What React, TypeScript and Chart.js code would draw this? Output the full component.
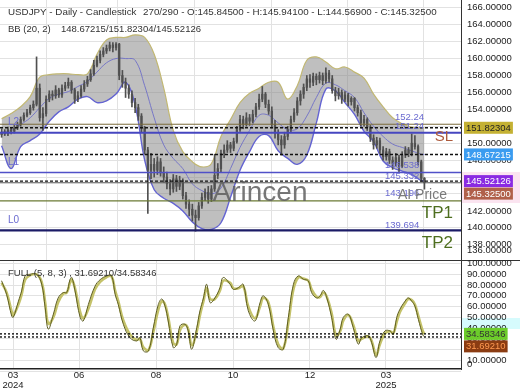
import React, { useEffect, useRef } from 'react';
import { Chart, registerables } from 'chart.js';
Chart.register(...registerables);

const FONT = '"Liberation Sans", Arial, sans-serif';

// ---- candle data (one bar per slot) ----
const opens = [
  151.00, 151.30, 151.10, 151.60, 151.40, 151.80, 152.20, 152.80, 153.30, 153.60,
  154.20, 154.60, 156.50, 153.00, 153.50, 155.20, 155.80, 155.60, 156.30, 155.70,
  156.50, 156.80, 157.20, 156.30, 155.20, 155.60, 156.40, 157.00, 157.50, 158.20,
  159.20, 159.80, 160.50, 160.90, 161.20, 161.60, 161.30, 161.70, 158.00, 157.20,
  156.50, 155.80, 154.80, 154.20, 153.20, 151.80, 149.20, 146.80, 147.50, 146.80,
  147.80, 146.50, 146.00, 145.20, 144.60, 145.80, 144.90, 145.60, 143.80, 142.80,
  142.20, 141.50, 141.20, 142.60, 143.60, 144.20, 143.40, 144.60, 146.20, 147.00,
  148.80, 149.20, 149.80, 149.40, 150.20, 151.60, 152.80, 152.20, 153.00, 152.60,
  153.40, 154.30, 155.20, 155.80, 154.60, 153.80, 152.20, 151.20, 150.40, 149.80,
  150.80, 151.60, 152.80, 153.60, 155.00, 155.80, 156.60, 157.60, 157.20, 157.90,
  157.50, 158.00, 157.40, 158.30, 157.60, 156.20, 155.60, 156.00, 155.20, 155.70,
  154.90, 155.30, 154.20, 153.60, 152.40, 152.80, 151.90, 150.60, 149.80, 150.30,
  149.20, 148.40, 149.00, 148.00, 147.60, 148.30, 147.30, 148.60, 149.20, 148.80,
  150.00, 149.60, 147.80, 145.845,
];
const highs = [
  151.70, 151.60, 151.90, 151.80, 152.10, 152.50, 153.10, 153.60, 154.00, 154.50,
  155.00, 160.20, 157.00, 154.20, 155.60, 156.20, 156.20, 156.80, 156.50, 156.90,
  157.20, 157.70, 157.40, 156.50, 156.10, 156.80, 157.40, 157.90, 158.70, 159.80,
  160.30, 160.90, 161.30, 161.60, 161.95, 161.90, 161.90, 161.80, 158.60, 157.70,
  156.90, 156.20, 155.30, 154.60, 153.50, 152.00, 149.50, 148.80, 148.20, 148.40,
  148.20, 147.20, 146.60, 145.70, 146.30, 146.20, 146.10, 145.80, 144.20, 143.30,
  142.80, 142.10, 143.00, 144.10, 144.60, 144.90, 145.00, 148.70, 147.60, 149.20,
  149.80, 150.30, 150.10, 150.60, 152.00, 153.30, 153.20, 153.60, 153.40, 153.90,
  154.70, 155.80, 156.70, 156.00, 155.10, 154.30, 152.70, 151.60, 150.90, 151.30,
  152.00, 153.20, 154.10, 155.40, 156.20, 157.00, 158.00, 158.10, 158.30, 158.20,
  158.40, 158.30, 158.90, 158.60, 158.00, 156.60, 156.50, 156.30, 156.10, 155.90,
  155.50, 155.40, 154.50, 153.90, 153.30, 153.00, 152.10, 151.00, 150.70, 150.60,
  149.60, 149.40, 149.30, 148.40, 148.80, 148.60, 149.00, 149.60, 149.50, 151.10,
  150.90, 149.80, 148.00, 145.941,
];
const lows = [
  150.70, 150.90, 150.90, 151.10, 151.20, 151.60, 152.00, 152.60, 153.10, 153.40,
  153.90, 154.40, 152.60, 151.50, 153.20, 154.90, 155.10, 155.30, 155.40, 155.40,
  156.20, 156.50, 155.90, 154.70, 154.90, 155.40, 156.10, 156.70, 157.30, 158.00,
  159.00, 159.50, 160.20, 160.60, 160.90, 160.80, 161.00, 157.50, 156.60, 155.40,
  155.30, 154.30, 153.60, 152.70, 151.30, 148.70, 141.70, 145.80, 146.00, 146.30,
  146.10, 145.40, 144.60, 143.90, 144.20, 144.30, 144.50, 143.40, 142.30, 141.40,
  140.80, 139.60, 140.90, 142.30, 143.20, 142.90, 143.10, 144.30, 145.80, 146.60,
  148.30, 148.90, 148.90, 149.10, 150.00, 151.40, 151.70, 152.00, 152.10, 152.40,
  153.10, 154.00, 154.90, 154.20, 153.40, 151.80, 150.60, 149.80, 148.60, 149.40,
  150.40, 151.30, 152.50, 153.30, 154.50, 155.30, 156.20, 156.60, 156.80, 156.90,
  157.10, 156.90, 157.10, 157.20, 155.90, 155.00, 155.20, 154.70, 154.90, 154.40,
  154.50, 153.80, 153.20, 152.00, 152.00, 151.50, 150.20, 149.30, 149.40, 148.80,
  148.00, 148.00, 147.60, 146.90, 147.30, 146.60, 147.10, 148.30, 148.40, 148.50,
  149.30, 147.40, 145.50, 144.569,
];
const closes = [
  151.30, 151.10, 151.60, 151.40, 151.80, 152.20, 152.80, 153.30, 153.60, 154.20,
  154.60, 156.50, 153.00, 153.50, 155.20, 155.80, 155.60, 156.30, 155.70, 156.50,
  156.80, 157.20, 156.30, 155.20, 155.60, 156.40, 157.00, 157.50, 158.20, 159.20,
  159.80, 160.50, 160.90, 161.20, 161.60, 161.30, 161.70, 158.00, 157.20, 156.50,
  155.80, 154.80, 154.20, 153.20, 151.80, 149.20, 146.80, 147.50, 146.80, 147.80,
  146.50, 146.00, 145.20, 144.60, 145.80, 144.90, 145.60, 143.80, 142.80, 142.20,
  141.50, 141.20, 142.60, 143.60, 144.20, 143.40, 144.60, 146.20, 147.00, 148.80,
  149.20, 149.80, 149.40, 150.20, 151.60, 152.80, 152.20, 153.00, 152.60, 153.40,
  154.30, 155.20, 155.80, 154.60, 153.80, 152.20, 151.20, 150.40, 149.80, 150.80,
  151.60, 152.80, 153.60, 155.00, 155.80, 156.60, 157.60, 157.20, 157.90, 157.50,
  158.00, 157.40, 158.30, 157.60, 156.20, 155.60, 156.00, 155.20, 155.70, 154.90,
  155.30, 154.20, 153.60, 152.40, 152.80, 151.90, 150.60, 149.80, 150.30, 149.20,
  148.40, 149.00, 148.00, 147.60, 148.30, 147.30, 148.60, 149.20, 148.80, 150.00,
  149.60, 147.80, 145.85, 145.325,
];

// ---- Bollinger bands (20, 2), read at every third slot ----
const bbX = [0, 3, 6, 9, 12, 15, 18, 21, 24, 27, 30, 33, 36, 39, 42, 45, 48, 51, 54, 57, 60, 63, 66, 69, 72, 75, 78, 81, 84, 87, 90, 93, 96, 99, 102, 105, 108, 111, 114, 117, 120, 123, 126, 129, 132, 133];
const bbUpper = [152.9, 153.5, 154.3, 155.5, 157.8, 158.1, 158.2, 158.2, 158.1, 158.2, 160.5, 162.2, 162.5, 162.5, 162.8, 162.5, 160.5, 156.5, 151.5, 149.0, 147.8, 147.2, 147.6, 150.8, 152.8, 154.8, 155.9, 156.5, 157.2, 157.2, 155.2, 156.8, 159.8, 160.2, 159.6, 158.8, 159.0, 158.4, 157.7, 155.8, 154.3, 153.0, 152.3, 151.9, 151.8, 151.82304];
const bbMiddle = [151.3, 151.5, 152.2, 153.0, 154.2, 155.3, 155.8, 156.1, 156.7, 157.3, 158.4, 159.5, 160.0, 160.0, 159.8, 156.8, 153.0, 149.8, 148.2, 147.0, 145.2, 144.4, 144.0, 144.7, 147.0, 149.5, 151.5, 153.3, 153.3, 152.4, 151.6, 151.7, 153.2, 155.4, 157.1, 156.9, 156.2, 155.4, 153.6, 152.0, 150.8, 149.9, 149.5, 149.1, 148.7, 148.67215];
const bbLower = [149.7, 147.0, 149.6, 150.3, 151.1, 152.6, 153.7, 154.3, 155.2, 155.5, 154.8, 155.0, 155.8, 157.2, 154.5, 148.0, 144.5, 143.5, 142.9, 142.0, 140.7, 139.9, 139.8, 140.6, 143.6, 146.8, 149.0, 150.8, 150.9, 149.1, 148.2, 147.5, 148.6, 152.4, 156.4, 156.2, 154.8, 153.4, 151.4, 150.2, 147.9, 147.1, 146.7, 146.3, 145.6, 145.52126];

// ---- Stochastic FULL (5, 8, 3) ----
const stX = [0, 1.6, 3.2, 3.7, 5.3, 6.3, 7.4, 8.9, 11.0, 12.6, 13.7, 14.7, 16.3, 17.8, 19.4, 20.5, 21.5, 22.1, 23.1, 24.7, 25.7, 27.3, 29.4, 31.0, 33.1, 34.6, 35.7, 36.7, 38.3, 40.4, 42.5, 43.5, 44.6, 46.2, 47.7, 49.3, 50.4, 51.4, 52.4, 54.0, 55.1, 56.1, 57.7, 58.7, 59.8, 61.4, 62.4, 63.5, 64.5, 65.6, 67.1, 68.7, 69.7, 71.9, 72.9, 74.5, 76.0, 77.6, 79.7, 81.3, 82.3, 83.9, 85.5, 87.0, 88.6, 90.2, 91.8, 93.3, 94.9, 96.5, 97.5, 99.1, 100.2, 101.2, 102.3, 103.8, 105.2, 106.5, 107.5, 109.1, 110.6, 112.2, 113.3, 115.4, 116.4, 117.8, 119.0, 120.6, 122.2, 123.2, 124.3, 125.3, 126.9, 127.9, 129.0, 130.0, 131.1, 132.5, 133];
const stK = [84, 71, 51, 50, 65, 74.5, 88.5, 90, 90, 81, 59, 39, 53, 68, 73, 73, 85, 87, 74.5, 50, 46.6, 62, 79, 85, 88.5, 88.5, 71.5, 62, 43.5, 31, 28, 31, 18.7, 18.7, 40, 62, 67, 60.5, 46.6, 21.8, 25, 42, 43.5, 37.3, 20.3, 40.4, 56, 68, 80.7, 63.6, 68, 77.6, 87, 80.7, 76, 77.6, 80.7, 56, 46.6, 63.6, 70, 62, 37.3, 21.8, 20.3, 50, 80.7, 88.5, 85.4, 83.8, 73, 68, 70, 75, 68, 50, 29.6, 38.9, 50, 52.8, 40.4, 25, 31, 32.7, 26.4, 12.5, 28, 37.3, 37.3, 34.2, 50, 57.5, 65, 68, 65, 60.5, 48, 33.5, 31.6921];
const stD = [82, 73, 55, 52, 62, 71, 85, 89, 90, 83, 64, 44, 50, 64, 72, 73, 82, 85, 77, 55, 49, 58, 76, 83, 87.5, 88, 75, 65, 47, 34, 29, 30, 22, 19.5, 36, 57, 65, 62, 50, 26, 25, 38, 43, 39, 24, 37, 52, 65, 77, 67, 67, 75, 84, 82, 77, 77, 79, 60, 49, 60, 68, 64, 41, 25, 21, 45, 76, 87, 86, 84, 76, 69, 69, 73, 69, 54, 33, 37, 47, 52, 43, 28, 30, 32, 28, 15, 25, 35, 37, 35, 46, 55, 63, 67, 66, 62, 51, 37, 34.58346];

// ---- axes ----
const priceTicks = [166, 164, 162, 160, 158, 156, 154, 152, 150, 148, 146, 144, 142, 140, 138, 136];
const stochTicks = [100, 90, 80, 70, 60, 50, 40, 30, 20, 10, 0];
const xTickPos = [3.59, 24.35, 48.57, 72.79, 97.0, 120.9];
const xTickLabels: (string | string[])[] = [['03', '2024'], '06', '08', '10', '12', ['03', '2025']];

// ---- levels & texts ----
const levelValues = [152.24, 151.82304, 151.24, 148.67215, 146.538, 145.52126, 145.325, 143.196, 139.694];
const levelTexts = ['152.24', '', '151.24', '', '146.538', '', '145.332', '143.196', '139.694'];
const sideTexts = ['L2', 'L1', 'L0'];
const sideLevels = [151.24, 146.538, 139.694];
const targetTexts = ['SL', 'TP1', 'TP2'];
const targetLevels = [151.24, 143.196, 139.694];
const priceBoxValues = [151.82304, 148.67215, 145.52126, 145.325];
const stochBoxValues = [34.58346, 31.6921];
const headerLine1a = 'USDJPY - Daily - Candlestick';
const headerLine1b = '270/290 - O:145.84500 - H:145.94100 - L:144.56900 - C:145.32500';
const headerLine2a = 'BB (20, 2)';
const headerLine2b = '148.67215/151.82304/145.52126';
const stochHeader = 'FULL (5, 8, 3) , 31.69210/34.58346';

function font(px: number) {
  return `${px}px ${FONT}`;
}

export default function App() {
  const refA = useRef<HTMLCanvasElement>(null);
  const refB = useRef<HTMLCanvasElement>(null);

  useEffect(() => {
    document.body.style.margin = '0';
    const levelStyle = [
      { c: '#7a6a3a', w: 1, d: [] as number[] },
      { c: '#111111', w: 1.4, d: [3, 2] },
      { c: '#4646c0', w: 2, d: [] as number[] },
      { c: '#111111', w: 1.4, d: [3, 2] },
      { c: '#5050c8', w: 1.5, d: [] as number[] },
      { c: '#111111', w: 1.4, d: [3, 2] },
      { c: '#555555', w: 1, d: [] as number[] },
      { c: '#6b7a35', w: 1.2, d: [] as number[] },
      { c: '#1b1b66', w: 2.2, d: [] as number[] },
    ];
    const levelTextDy = [-7, 0, -6, 0, -7.5, 0, -6, -7, -5.5];
    const levelTextX = [395, 0, 395, 0, 385, 0, 385, 385, 385];
    const boxStyles = [
      { bg: '#c4b133', fg: '#222' },
      { bg: '#3b9cf0', fg: '#fff' },
      { bg: '#8a2be2', fg: '#fff' },
      { bg: '#b0604a', fg: '#fff' },
    ];

    const mainOverlay = {
      id: 'mainOverlay',
      afterDatasetsDraw(chart: any) {
        const { ctx, chartArea, scales } = chart;
        const y = scales.y;
        ctx.save();
        levelValues.forEach((v, k) => {
          const s = levelStyle[k];
          const py = y.getPixelForValue(v);
          ctx.beginPath();
          ctx.setLineDash(s.d);
          ctx.strokeStyle = s.c;
          ctx.lineWidth = s.w;
          ctx.moveTo(chartArea.left, py);
          ctx.lineTo(chartArea.right, py);
          ctx.stroke();
        });
        ctx.setLineDash([]);
        ctx.restore();
      },
      afterDraw(chart: any) {
        const { ctx, scales } = chart;
        const y = scales.y;
        ctx.save();
        ctx.textBaseline = 'middle';
        // watermark
        ctx.font = font(28);
        ctx.fillStyle = 'rgba(95,95,95,0.85)';
        ctx.textAlign = 'center';
        ctx.fillText('Arincen', 260, 193);
        ctx.textAlign = 'left';
        // level value texts
        ctx.font = font(9.5);
        ctx.fillStyle = '#6a6ad0';
        levelValues.forEach((v, k) => {
          if (!levelTexts[k]) return;
          ctx.fillText(levelTexts[k], levelTextX[k], y.getPixelForValue(v) + levelTextDy[k]);
        });
        // L labels
        ctx.font = font(10);
        sideTexts.forEach((t, k) => {
          ctx.fillText(t, 8, y.getPixelForValue(sideLevels[k]) - 10);
        });
        // AI Price
        ctx.font = font(14);
        ctx.fillStyle = '#7a7a7a';
        ctx.fillText('AI Price', 398, 195);
        // SL / TP
        const tDy = [4, 12.5, 12.5];
        const tCol = ['#ad5a3c', '#4d6e1e', '#4d6e1e'];
        const tSize = [15, 17, 17];
        targetTexts.forEach((t, k) => {
          ctx.font = font(tSize[k]);
          ctx.fillStyle = tCol[k];
          ctx.textAlign = 'right';
          ctx.fillText(t, 453, y.getPixelForValue(targetLevels[k]) + tDy[k]);
        });
        ctx.textAlign = 'left';
        // header
        ctx.font = font(9.8);
        ctx.fillStyle = '#333';
        ctx.fillText(headerLine1a, 8, 12.5);
        ctx.fillText(headerLine1b, 143, 12.5);
        ctx.font = font(9.5);
        ctx.fillText(headerLine2a, 8, 29.5);
        ctx.fillText(headerLine2b, 61, 29.5);
        // axis tick labels
        ctx.fillStyle = '#222';
        priceTicks.forEach((v) => {
          const py = Math.min(y.getPixelForValue(v), 250);
          ctx.fillText(v.toFixed(5), 467, py);
        });
        // halo behind lower boxes
        ctx.fillStyle = '#fbe4f0';
        ctx.fillRect(462, 172, 58, 31);
        // value boxes
        let prev = -100;
        priceBoxValues.forEach((v, k) => {
          let py = y.getPixelForValue(v);
          if (py < prev + 12.5) py = prev + 12.5;
          prev = py;
          const txt = v.toFixed(5);
          const w = ctx.measureText(txt).width;
          ctx.fillStyle = boxStyles[k].bg;
          ctx.fillRect(464, py - 6, w + 4, 12);
          ctx.fillStyle = boxStyles[k].fg;
          ctx.fillText(txt, 466, py + 0.5);
        });
        ctx.restore();
      },
    };

    const stochOverlay = {
      id: 'stochOverlay',
      afterDatasetsDraw(chart: any) {
        const { ctx, chartArea, scales } = chart;
        const y = scales.y;
        ctx.save();
        ctx.setLineDash([2, 2]);
        ctx.strokeStyle = '#111';
        ctx.lineWidth = 1.4;
        stochBoxValues.forEach((v) => {
          const py = y.getPixelForValue(v);
          ctx.beginPath();
          ctx.moveTo(chartArea.left, py);
          ctx.lineTo(chartArea.right, py);
          ctx.stroke();
        });
        ctx.setLineDash([]);
        ctx.restore();
      },
      afterDraw(chart: any) {
        const { ctx, scales } = chart;
        const y = scales.y;
        ctx.save();
        // separator
        ctx.strokeStyle = '#333';
        ctx.lineWidth = 1;
        ctx.beginPath();
        ctx.moveTo(0, 0.5);
        ctx.lineTo(520, 0.5);
        ctx.stroke();
        ctx.textBaseline = 'middle';
        ctx.font = font(9.5);
        ctx.fillStyle = '#333';
        ctx.fillText(stochHeader, 8, 13.5);
        // cyan halo
        ctx.fillStyle = '#d6fbfd';
        ctx.fillRect(462, 58, 58, 11);
        ctx.fillStyle = '#222';
        stochTicks.forEach((v) => {
          let py = y.getPixelForValue(v);
          if (py > 104) py = 104;
          ctx.fillText(v === 0 ? '0' : v.toFixed(5), 467, py);
        });
        const bs = [
          { bg: '#6ccc2a', fg: '#333' },
          { bg: '#8b3c12', fg: '#ff9a52' },
        ];
        let prev = -100;
        stochBoxValues.forEach((v, k) => {
          let py = y.getPixelForValue(v);
          if (py < prev + 12.5) py = prev + 12.5;
          prev = py;
          const txt = v.toFixed(5);
          const w = ctx.measureText(txt).width;
          ctx.fillStyle = bs[k].bg;
          ctx.fillRect(464, py - 6, w + 4, 12);
          ctx.fillStyle = bs[k].fg;
          ctx.fillText(txt, 466, py + 0.5);
        });
        ctx.restore();
      },
    };

    const xTicksBuilder = (s: any) => {
      s.ticks = xTickPos.map((v) => ({ value: v }));
    };

    const chartA = new Chart(refA.current as HTMLCanvasElement, {
      type: 'bar',
      data: {
        datasets: [
          {
            type: 'line',
            label: 'BB upper',
            data: bbX.map((x, i) => ({ x, y: bbUpper[i] })),
            borderColor: '#c2b873',
            borderWidth: 1.2,
            pointRadius: 0,
            tension: 0.4,
            fill: '+1',
            backgroundColor: 'rgba(128,128,128,0.5)',
            order: 5,
          } as any,
          {
            type: 'line',
            label: 'BB lower',
            data: bbX.map((x, i) => ({ x, y: bbLower[i] })),
            borderColor: '#6464d2',
            borderWidth: 1.4,
            pointRadius: 0,
            tension: 0.4,
            fill: false,
            order: 4,
          } as any,
          {
            type: 'line',
            label: 'BB middle',
            data: bbX.map((x, i) => ({ x, y: bbMiddle[i] })),
            borderColor: '#7676c6',
            borderWidth: 1,
            pointRadius: 0,
            tension: 0.4,
            fill: false,
            order: 3,
          } as any,
          {
            type: 'bar',
            label: 'wick',
            data: closes.map((c, i) => ({ x: i, y: [lows[i], highs[i]] })),
            backgroundColor: '#505050',
            barThickness: 1,
            grouped: false,
            order: 2,
          } as any,
          {
            type: 'bar',
            label: 'body',
            data: closes.map((c, i) => ({ x: i, y: [opens[i], c] })),
            backgroundColor: '#505050',
            barThickness: 1.6,
            minBarLength: 1,
            grouped: false,
            order: 1,
          } as any,
        ],
      },
      options: {
        responsive: false,
        animation: false,
        events: [],
        layout: { padding: 0 },
        plugins: { legend: { display: false }, tooltip: { enabled: false } },
        scales: {
          x: {
            type: 'linear',
            min: -0.5,
            max: 144.5,
            offset: false,
            afterBuildTicks: xTicksBuilder,
            ticks: { display: false },
            grid: { color: '#e2e2e2', drawTicks: false },
            border: { display: false },
            afterFit: (s: any) => {
              s.height = 0;
            },
          },
          y: {
            position: 'right',
            min: 136.2,
            max: 166.92,
            afterBuildTicks: (s: any) => {
              s.ticks = priceTicks.map((v) => ({ value: v }));
            },
            ticks: { display: false },
            grid: { color: '#e2e2e2', drawTicks: false },
            border: { display: true, color: '#333', width: 1 },
            afterFit: (s: any) => {
              s.width = 59;
            },
          },
        },
      } as any,
      plugins: [mainOverlay],
    });

    const chartB = new Chart(refB.current as HTMLCanvasElement, {
      type: 'line',
      data: {
        datasets: [
          {
            label: '%D',
            data: stX.map((x, i) => ({ x, y: stD[i] })),
            borderColor: '#c4c26a',
            borderWidth: 2.6,
            pointRadius: 0,
            tension: 0.4,
            order: 2,
          },
          {
            label: '%K',
            data: stX.map((x, i) => ({ x, y: stK[i] })),
            borderColor: '#5e5e22',
            borderWidth: 1,
            pointRadius: 0,
            tension: 0.4,
            order: 1,
          },
        ],
      },
      options: {
        responsive: false,
        animation: false,
        events: [],
        layout: { padding: 0 },
        plugins: { legend: { display: false }, tooltip: { enabled: false } },
        scales: {
          x: {
            type: 'linear',
            min: -0.5,
            max: 144.5,
            offset: false,
            afterBuildTicks: xTicksBuilder,
            ticks: {
              autoSkip: false,
              maxRotation: 0,
              padding: 2,
              color: '#222',
              font: { family: FONT, size: 9.5, lineHeight: 1 },
              callback: (_v: any, i: number) => xTickLabels[i],
            },
            grid: { color: '#e2e2e2', drawTicks: false },
            border: { display: true, color: '#222', width: 1.5 },
            afterFit: (s: any) => {
              s.height = 21;
            },
          },
          y: {
            position: 'right',
            min: 1.9,
            max: 103.3,
            afterBuildTicks: (s: any) => {
              s.ticks = stochTicks.map((v) => ({ value: v }));
            },
            ticks: { display: false },
            grid: { color: '#e2e2e2', drawTicks: false },
            border: { display: true, color: '#333', width: 1 },
            afterFit: (s: any) => {
              s.width = 59;
            },
          },
        },
      } as any,
      plugins: [stochOverlay],
    });

    return () => {
      chartA.destroy();
      chartB.destroy();
    };
  }, []);

  return (
    <div style={{ position: 'fixed', left: 0, top: 0, width: 520, height: 390, background: '#fff' }}>
      <canvas
        ref={refA}
        width={520}
        height={260}
        style={{ position: 'absolute', left: 0, top: 0, width: 520, height: 260 }}
      />
      <canvas
        ref={refB}
        width={520}
        height={130}
        style={{ position: 'absolute', left: 0, top: 260, width: 520, height: 130 }}
      />
    </div>
  );
}
